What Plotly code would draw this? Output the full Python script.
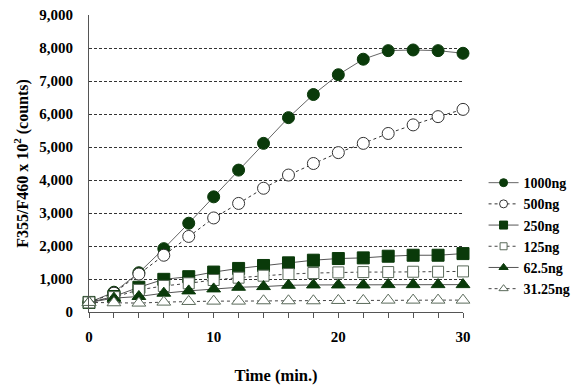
import plotly.graph_objects as go

time = [0, 2, 4, 6, 8, 10, 12, 14, 16, 18, 20, 22, 24, 26, 28, 30]
s1000 = [290, 600, 1190, 1920, 2690, 3490, 4300, 5110, 5890, 6590, 7190, 7660, 7920, 7940, 7920, 7840]
s500 = [290, 570, 1150, 1720, 2290, 2850, 3290, 3750, 4150, 4500, 4830, 5110, 5410, 5670, 5920, 6140]
s250 = [290, 470, 750, 990, 1070, 1210, 1320, 1410, 1490, 1570, 1620, 1640, 1690, 1720, 1720, 1770]
s125 = [290, 450, 670, 790, 870, 970, 1040, 1100, 1150, 1180, 1200, 1210, 1210, 1220, 1220, 1230]
s62 = [290, 420, 470, 570, 640, 700, 750, 770, 810, 820, 820, 820, 830, 830, 830, 830]
s31 = [290, 280, 270, 300, 320, 330, 330, 340, 340, 340, 350, 350, 360, 360, 360, 360]
names = ["1000ng", "500ng", "250ng", "125ng", "62.5ng", "31.25ng"]

GREEN = "#0a3a0a"
OPEN = "#5a6a5a"
FONT = "Liberation Serif"

series = [
    (s1000, "circle", GREEN, GREEN, "solid", "#666666", 12, 8),
    (s500, "circle", "white", "#333333", "dot", "#333333", 12, 8),
    (s250, "square", GREEN, GREEN, "solid", "#555555", 12, 8),
    (s125, "square", "white", OPEN, "dot", "#444444", 11, 7),
    (s62, "triangle-up", GREEN, GREEN, "solid", "#555555", 12, 8),
    (s31, "triangle-up", "white", OPEN, "dot", "#444444", 12, 8),
]

fig = go.Figure()
for (vals, sym, fill, edge, dash, lc, sz, lsz), nm in zip(series, names):
    fig.add_trace(go.Scatter(
        x=time, y=vals, name=nm, mode="lines+markers", showlegend=False,
        line=dict(color=lc, width=1, dash=dash),
        marker=dict(symbol=sym, size=sz, color=fill, line=dict(color=edge, width=1)),
        cliponaxis=False,
    ))
for (vals, sym, fill, edge, dash, lc, sz, lsz), nm in zip(series, names):
    fig.add_trace(go.Scatter(
        x=[None], y=[None], name=nm, mode="lines+markers", showlegend=True,
        line=dict(color=lc, width=1, dash=dash),
        marker=dict(symbol=sym, size=lsz, color=fill, line=dict(color=edge, width=1)),
    ))

fig.update_layout(
    width=576, height=385,
    margin=dict(l=89, r=113, t=15, b=73, autoexpand=False),
    paper_bgcolor="white", plot_bgcolor="white",
    font=dict(family=FONT, size=14, color="black"),
    showlegend=True,
    legend=dict(x=1.055, y=0.488, xanchor="left", yanchor="top",
                font=dict(family=FONT, size=14, color="black", weight="bold"),
                tracegroupgap=0, itemwidth=30, bgcolor="rgba(0,0,0,0)"),
    xaxis=dict(range=[0, 30], tickvals=[0, 10, 20, 30], ticks="outside", ticklen=5,
               tickcolor="#555555", showline=True, linecolor="#555555", linewidth=1,
               showgrid=False, zeroline=False, ticklabelstandoff=6, automargin=False,
               minor=dict(dtick=2, ticks="outside", ticklen=5, tickcolor="#555555"),
               tickfont=dict(family=FONT, size=15, weight="bold"),
               title=dict(text="Time (min.)", font=dict(family=FONT, size=16.5, weight="bold"), standoff=36)),
    yaxis=dict(range=[0, 9000], dtick=1000, tickformat=",d", ticks="",
               showline=True, linecolor="#555555", linewidth=1, automargin=False,
               showgrid=True, gridcolor="#333333", griddash="3px,2px", gridwidth=1,
               zeroline=False, ticklabelstandoff=12,
               tickfont=dict(family=FONT, size=15, weight="bold"),
               title=dict(text="F355/F460 x 10<sup>2</sup> (counts)",
                          font=dict(family=FONT, size=16, weight="bold"), standoff=6)),
)

fig.write_html("out.html")
